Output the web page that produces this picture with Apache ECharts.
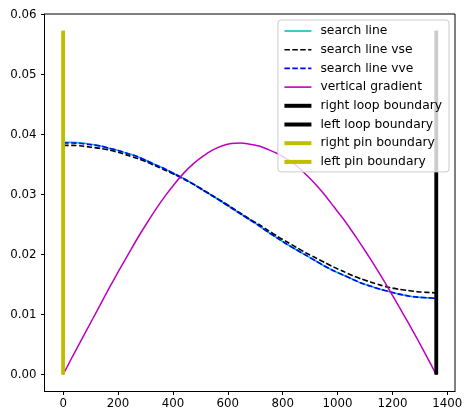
<!DOCTYPE html>
<html><head><meta charset="utf-8">
<script src="https://cdn.jsdelivr.net/npm/echarts@6/dist/echarts.min.js"></script>
<style>html,body{margin:0;padding:0;background:#fff}#c{width:467px;height:414px}</style>
</head><body><div id="c"></div>
<script>
// ---- data ----
const xValues = [0, 34, 68, 102, 136, 170, 204, 238, 272, 306, 340, 374, 408, 442, 476, 510, 544, 578, 612, 646,
  680, 714, 748, 782, 816, 850, 884, 918, 952, 986, 1020, 1054, 1088, 1122, 1156, 1190, 1224, 1258, 1292, 1326, 1360];
const searchLine = [0.0387, 0.0387, 0.0386, 0.0384, 0.0381, 0.0377, 0.0373, 0.0368, 0.0363, 0.0356, 0.0349, 0.0342, 0.0334, 0.0326,
  0.0317, 0.0307, 0.0298, 0.0288, 0.0278, 0.0268, 0.0258, 0.0248, 0.0237, 0.0227, 0.0217, 0.0208, 0.0199, 0.0190, 0.0181, 0.0173,
  0.0166, 0.0159, 0.0152, 0.0147, 0.0142, 0.0138, 0.0134, 0.0131, 0.0129, 0.0128, 0.0127];
const searchLineVse = [0.0382, 0.0382, 0.0381, 0.0379, 0.0377, 0.0374, 0.0370, 0.0365, 0.0360, 0.0354, 0.0347, 0.0340, 0.0333, 0.0325,
  0.0317, 0.0308, 0.0298, 0.0289, 0.0279, 0.0269, 0.0259, 0.0250, 0.0240, 0.0230, 0.0221, 0.0212, 0.0203, 0.0195, 0.0187, 0.0179,
  0.0172, 0.0165, 0.0159, 0.0154, 0.0149, 0.0145, 0.0142, 0.0140, 0.0138, 0.0137, 0.0136];
const searchLineVve = [0.0386, 0.0386, 0.0385, 0.0383, 0.0381, 0.0377, 0.0373, 0.0368, 0.0363, 0.0356, 0.0349, 0.0342, 0.0334, 0.0326,
  0.0317, 0.0307, 0.0298, 0.0288, 0.0278, 0.0268, 0.0258, 0.0248, 0.0237, 0.0227, 0.0217, 0.0208, 0.0199, 0.0190, 0.0181, 0.0173,
  0.0166, 0.0159, 0.0152, 0.0147, 0.0142, 0.0138, 0.0134, 0.0131, 0.0129, 0.0128, 0.0127];
const verticalGradient = [0, 0.0030, 0.0059, 0.0088, 0.0117, 0.0146, 0.0174, 0.0201, 0.0228, 0.0253, 0.0277, 0.0299, 0.0319, 0.0337,
  0.0352, 0.0364, 0.0374, 0.0381, 0.0385, 0.0386, 0.0384, 0.0381, 0.0375, 0.0368, 0.0359, 0.0348, 0.0334, 0.0318, 0.0300, 0.0280,
  0.0260, 0.0238, 0.0215, 0.0191, 0.0166, 0.0140, 0.0113, 0.0086, 0.0058, 0.0029, 0];
const loopBoundaryX = [1360, 1360];
const pinBoundaryX = [0, 0];
const boundaryY = [0, 0.0573];
const xTicks = [0, 200, 400, 600, 800, 1000, 1200, 1400];
const yTicks = [0, 0.01, 0.02, 0.03, 0.04, 0.05, 0.06];
const seriesNames = ['search line', 'search line vse', 'search line vve', 'vertical gradient',
  'right loop boundary', 'left loop boundary', 'right pin boundary', 'left pin boundary'];

const pairs = (xs, ys) => xs.map((x, i) => [x, ys[i]]);
const FONT = 'DejaVu Sans';
const dash = [5.5, 2.4];

const series = [
  {name: seriesNames[0], data: pairs(xValues, searchLine), color: '#00bfbf', lineStyle: {width: 1.6, type: 'solid'}},
  {name: seriesNames[1], data: pairs(xValues, searchLineVse), color: '#000000', lineStyle: {width: 1.6, type: dash}},
  {name: seriesNames[2], data: pairs(xValues, searchLineVve), color: '#0000ff', lineStyle: {width: 1.6, type: dash}},
  {name: seriesNames[3], data: pairs(xValues, verticalGradient), color: '#bf00bf', lineStyle: {width: 1.5, type: 'solid'}},
  {name: seriesNames[4], data: pairs(loopBoundaryX, boundaryY), color: '#000000', lineStyle: {width: 3.5}},
  {name: seriesNames[5], data: pairs(loopBoundaryX, boundaryY), color: '#000000', lineStyle: {width: 3.5}},
  {name: seriesNames[6], data: pairs(pinBoundaryX, boundaryY), color: '#bfbf00', lineStyle: {width: 3.5}},
  {name: seriesNames[7], data: pairs(pinBoundaryX, boundaryY), color: '#bfbf00', lineStyle: {width: 3.5}}
].map(s => Object.assign({type: 'line', symbol: 'none', smooth: s.data.length > 2 ? 0.25 : false,
  lineStyle: s.lineStyle, itemStyle: {color: s.color}, silent: true}, s));

const legendData = series.map(s => ({
  name: s.name,
  itemStyle: {opacity: 0},
  lineStyle: {width: s.lineStyle.width > 2 ? 4 : 1.6, color: s.color, type: s.lineStyle.type}
}));

const chart = echarts.init(document.getElementById('c'), null, {renderer: 'canvas'});
chart.setOption({
  animation: false,
  backgroundColor: '#fff',
  grid: {left: 44.5, right: 12, top: 14, bottom: 22.5, show: true, borderColor: '#000', borderWidth: 1, backgroundColor: 'transparent'},
  xAxis: {
    type: 'value', min: -68, max: 1428,
    axisLine: {show: true, onZero: false, lineStyle: {color: '#000', width: 1}},
    axisTick: {show: true, length: 3.5, customValues: xTicks, lineStyle: {color: '#000'}},
    axisLabel: {customValues: xTicks, margin: 6, color: '#000', fontFamily: FONT, fontSize: 11.8, formatter: v => String(v)},
    splitLine: {show: false}
  },
  yAxis: {
    type: 'value', min: -0.00283, max: 0.0601,
    axisLine: {show: true, onZero: false, lineStyle: {color: '#000', width: 1}},
    axisTick: {show: true, length: 3.5, customValues: yTicks, lineStyle: {color: '#000'}},
    axisLabel: {customValues: yTicks, margin: 8, color: '#000', fontFamily: FONT, fontSize: 11.8, formatter: v => v.toFixed(2)},
    splitLine: {show: false}
  },
  legend: {
    orient: 'vertical', right: 18, top: 20,
    padding: [4, 7, 3, 4.5],
    itemWidth: 27, itemHeight: 14, itemGap: 4.7,
    backgroundColor: 'rgba(255,255,255,0.8)', borderColor: '#cccccc', borderWidth: 1, borderRadius: 3,
    textStyle: {fontFamily: FONT, fontSize: 12.3, color: '#000', padding: [0, 0, 0, 4], lineHeight: 14},
    data: legendData,
    selectedMode: false
  },
  series: series
});
</script>
</body></html>
